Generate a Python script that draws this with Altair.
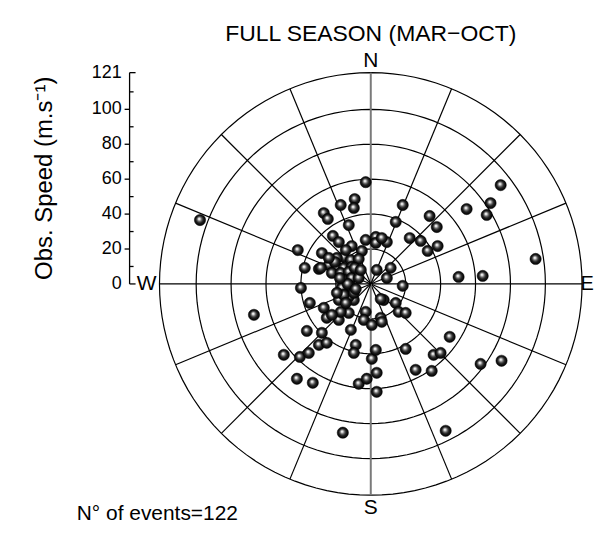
import altair as alt
import pandas as pd

# Eastward / northward components of the observed speed (m/s), one per event
EAST = [-2.9, -97.8, -9.2, -17.2, -9.7, -26.9, -24.6, -12.6, -21.7, -18.3,
        -41.8, -28.0, -10.9, -2.9, -37.8, -29.7, -22.9, -5.1, 74.4, 68.6,
        66.4, 54.9, 18.3, 14.3, 33.7, 37.8, 22.3, 28.6, 32.6, 38.3,
        94.4, 50.3, 64.1, 2.9, 2.9, 9.2, 3.4, 11.4, 9.2, 18.3,
        -40.0, -34.9, -66.9, -26.9, -25.2, -18.3, -12.6, -36.6, -28.0, -29.7,
        -25.2, -49.8, -40.6, -35.5, -11.4, -8.6, -9.7, -42.3, -33.2, -16.0,
        -2.9, -4.0, -18.3, -13.7, -9.7, -17.2, 0.6, 0.6, -6.9, -2.3,
        3.4, 3.4, 2.9, 7.4, 14.3, 16.0, 20.0, 5.7, 6.3, 45.2,
        20.0, 36.0, 40.0, 25.7, 34.9, 62.9, 74.9, 42.9,
        -15.4, -19.4, -11.4, -6.9, -24.0, -19.4, -15.4, -10.9, -22.3, -17.2,
        -12.6, -8.0, -28.6, -15.4, -10.9, -6.9, -11.4, -16.6, -12.6, -15.4,
        -9.7, -14.3, 6.3, -22.3,
        -20.6, -13.2, -9.2, -17.7, -5.7, -19.4, -8.6, -14.3, -24.0, 5.7]
NORTH = [58.3, 36.6, 48.6, 45.2, 43.5, 40.6, 37.2, 33.7, 27.5, 24.0,
         19.4, 17.7, 21.7, 25.2, 9.2, 8.6, 12.0, 18.9, 56.6, 46.3,
         39.5, 42.9, 45.2, 35.5, 38.9, 32.6, 26.3, 24.6, 18.9, 21.7,
         14.3, 4.0, 4.6, 26.9, 23.5, 24.0, 8.0, 9.2, 3.4, -1.1,
         -2.3, -10.9, -17.7, -13.7, -19.4, -20.6, -16.6, -26.9, -28.0, -34.9,
         -33.7, -40.6, -41.8, -39.5, -26.3, -34.9, -39.5, -54.3, -56.6, -85.2,
         -16.0, -20.6, -9.2, -9.2, -9.2, -16.0, -23.5, -42.9, -57.2, -54.3,
         -50.9, -61.8, -37.8, -9.2, -10.9, -16.0, -16.6, -19.4, -21.7, -30.3,
         -37.2, -40.6, -39.5, -49.2, -49.8, -45.8, -44.0, -84.1,
         15.4, 14.9, 13.7, 14.3, 10.9, 9.7, 9.2, 9.7, 6.3, 6.3,
         6.9, 5.7, 9.2, 2.3, 3.4, 3.4, -1.7, -2.3, -7.4, -6.3,
         -5.1, -10.9, 26.3, -17.7,
         12.6, 0.0, 9.2, 3.4, 8.0, -5.1, -2.9, 19.4, 14.9, -8.6]

RING_RADII = [20, 40, 60, 80, 100, 121]
SPOKE_DIRS = [0, 22.5, 45, 67.5, 90, 112.5, 135, 157.5,
              180, 202.5, 225, 247.5, 270, 292.5, 315, 337.5]
AXIS_MAJOR = [20, 40, 60, 80, 100]
AXIS_ENDS = [0, 121]
AXIS_LABELS = [0, 20, 40, 60, 80, 100, 121]
AXIS_MINOR = [10, 30, 50, 70, 90, 110]
TITLE = "FULL SEASON (MAR\u2212OCT)"
YLABEL = "Obs.  Speed  (m.s\u207b\u00b9)"
COUNT_LABEL = "N\u00b0 of events=122"
RMAX = 121

FONT = "Liberation Sans"
sc = alt.Scale(domain=[-RMAX, RMAX], nice=False, zero=False)

ring_df = pd.DataFrame([{"r": r, "a": a} for r in RING_RADII for a in range(0, 361, 3)])
spoke_df = pd.DataFrame({"d": SPOKE_DIRS, "rmax": [RMAX] * len(SPOKE_DIRS)})
pts_df = pd.DataFrame({"east": EAST, "north": NORTH})

rings = alt.Chart(ring_df).transform_calculate(
    x="datum.r*sin(datum.a*PI/180)", y="datum.r*cos(datum.a*PI/180)"
).mark_line(color="black", strokeWidth=1.2).encode(
    x=alt.X("x:Q", scale=sc, axis=None),
    y=alt.Y("y:Q", scale=sc, axis=None),
    detail="r:N", order="a:Q")

spokes = alt.Chart(spoke_df).transform_calculate(
    x0="0", y0="0",
    x1="datum.rmax*sin(datum.d*PI/180)", y1="datum.rmax*cos(datum.d*PI/180)"
).mark_rule().encode(
    x=alt.X("x0:Q", scale=sc, axis=None),
    y=alt.Y("y0:Q", scale=sc, axis=None),
    x2="x1:Q", y2="y1:Q",
    color=alt.condition("datum.d % 180 == 0", alt.value("#7a7a7a"), alt.value("black")),
    strokeWidth=alt.condition("datum.d % 180 == 0", alt.value(2), alt.value(1.2)))

sphere = {
    "gradient": "radial",
    "x1": 0.42, "y1": 0.38, "r1": 0,
    "x2": 0.5, "y2": 0.5, "r2": 0.5,
    "stops": [
        {"offset": 0, "color": "#ffffff"},
        {"offset": 0.15, "color": "#e6e6e6"},
        {"offset": 0.38, "color": "#707070"},
        {"offset": 0.62, "color": "#222222"},
        {"offset": 1, "color": "#000000"},
    ],
}
points = alt.Chart(pts_df).mark_circle(
    size=128, opacity=1, fill=sphere, stroke="black", strokeWidth=0.5
).encode(
    x=alt.X("east:Q", scale=sc, axis=None),
    y=alt.Y("north:Q", scale=sc, axis=None))

# left speed axis
axis_line = alt.Chart(pd.DataFrame({"lo": [0], "hi": [RMAX]})).mark_rule(
    color="black", strokeWidth=1.3).encode(
    x=alt.value(-30), y=alt.Y("lo:Q", scale=sc, axis=None), y2="hi:Q")
major_ticks = alt.Chart(pd.DataFrame({"v": AXIS_MAJOR})).mark_rule(
    color="black", strokeWidth=1.3).encode(
    x=alt.value(-35), x2=alt.value(-30), y=alt.Y("v:Q", scale=sc, axis=None))
end_ticks = alt.Chart(pd.DataFrame({"v": AXIS_ENDS})).mark_rule(
    color="black", strokeWidth=1.3).encode(
    x=alt.value(-30), x2=alt.value(-24), y=alt.Y("v:Q", scale=sc, axis=None))
minor_ticks = alt.Chart(pd.DataFrame({"v": AXIS_MINOR})).mark_rule(
    color="black", strokeWidth=1.3).encode(
    x=alt.value(-30), x2=alt.value(-26), y=alt.Y("v:Q", scale=sc, axis=None))
axis_labels = alt.Chart(pd.DataFrame({"v": AXIS_LABELS})).mark_text(
    align="right", baseline="middle", fontSize=18, font=FONT, color="black").encode(
    x=alt.value(-38), y=alt.Y("v:Q", scale=sc, axis=None), text="v:Q")


def label(txt, x, y, size, **kw):
    return alt.Chart(pd.DataFrame({"t": [txt]})).mark_text(
        fontSize=size, font=FONT, color="black", baseline="middle", **kw
    ).encode(x=alt.value(x), y=alt.value(y), text="t:N")


texts = [
    label(TITLE, 212, -39, 23, align="center"),
    label("N", 212, -12, 21, align="center"),
    label("S", 212, 437, 21, align="center"),
    label("W", -13, 212, 21, align="center"),
    label("E", 429, 212, 20, align="center"),
    label(COUNT_LABEL, -83, 443, 21, align="left"),
    label(YLABEL, -115, 106, 24, align="center", angle=270),
]

chart = alt.layer(
    rings, spokes, points, axis_line, major_ticks, end_ticks, minor_ticks, axis_labels, *texts
).properties(
    width=424, height=424,
    autosize=alt.AutoSizeParams(type="none"),
    padding={"left": 152, "top": 64, "right": 15, "bottom": 28},
    background="white",
).configure_view(stroke=None)

chart.save("out.html", embed_options={"renderer": "svg", "actions": False})
